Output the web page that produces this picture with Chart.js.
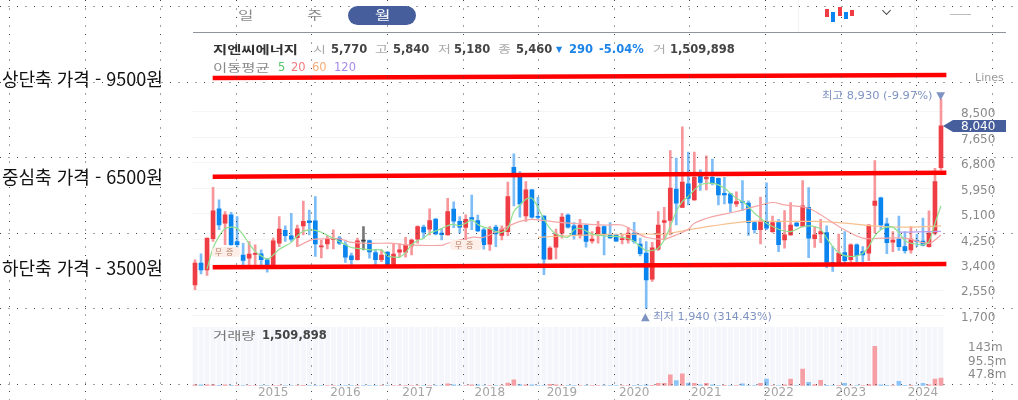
<!DOCTYPE html>
<html lang="ko">
<head>
<meta charset="utf-8">
<title>지엔씨에너지</title>
<script src="https://cdn.jsdelivr.net/npm/chart.js@4"></script>
<style>
  html, body { margin: 0; padding: 0; background: #fff; overflow: hidden; }
  #stage { position: relative; width: 1018px; height: 400px; overflow: hidden; font-family: "DejaVu Sans", "Noto Sans CJK KR", sans-serif; }
  #priceChart { position: absolute; left: 0; top: 0; }
  .t { position: absolute; white-space: nowrap; font-size: 10px; line-height: 12px; color: #aaa; }
  .num { color: #444; font-weight: bold; font-size: 11.5px; }
  .note { font-family: "Noto Sans CJK KR", sans-serif; font-size: 18px; line-height: 22px; color: #111; }
  .kr { font-family: "Noto Sans CJK KR", sans-serif; transform: scaleX(1.4); transform-origin: left center; }
  .tag { position: absolute; background: #fdeee8; border-radius: 4px; color: #b5785f; font-size: 8px; line-height: 10px; text-align: center; font-family: "Noto Sans CJK KR", sans-serif; }
  .box { position: absolute; }
</style>
</head>
<body>
<div id="stage">
  <!-- 410 tall: the thick channel lines make Chart.js keep about 10px spare under the x axis, the stage crops it -->
  <canvas id="priceChart" width="1018" height="410"></canvas>
  <div id="overlay"></div>
</div>
<script>
// Candles, Dec 2013 to Apr 2024
const opens = [2730,3460,3230,4270,5270,4790,5070,4180,3730,3620,3750,3770,3570,3350,4120,4550,4370,4310,4700,4870,
  4870,4000,4100,4250,4290,4070,3700,3570,4190,4210,3810,3570,3830,3350,3820,3820,4030,4260,4660,4590,
  4930,4460,4400,5260,4850,4650,4980,4880,4570,4090,4660,4380,4510,6650,6350,5030,5900,5020,5030,3590,
  3990,4460,5060,4700,4370,4720,4200,4430,4680,4400,4400,4240,4230,4460,4090,3790,2920,3920,4820,4880,
  5930,5320,6100,5570,6350,6270,6320,6290,5790,5770,5430,5510,5460,4810,4570,4850,4510,4810,4230,4400,
  4790,4680,5320,4270,4430,4480,3480,3400,3810,3570,4070,3840,3790,5380,5640,4770,4160,4260,4010,3900,
  4210,4190,4010,4460,6640];
const highs = [3570,3770,4290,5990,5570,5180,5150,5010,4120,4180,4070,3900,3620,4290,5010,4700,5120,4730,5530,5230,
  5680,4230,4350,4570,4350,4180,3790,4290,4680,4230,3920,3900,3840,4100,4100,4320,4260,4700,4730,5270,
  4940,4620,5620,5500,5010,5070,5730,5060,4620,4680,4730,4700,6160,7100,6510,6180,5920,5650,5040,4010,
  4590,5120,5100,4810,4920,4760,4510,4850,4710,4810,4430,4430,4650,4820,4290,4180,4150,5180,5320,7210,
  6960,8000,7160,7160,6570,7040,6930,6300,6320,5790,5840,6210,5540,4850,5660,6140,5030,4920,5210,5480,
  4850,6210,5980,4680,4920,4700,4010,4430,4510,4100,4100,4010,4740,6880,5660,4960,4510,5030,4510,4680,
  4430,4960,5200,6620,8930];
const lows = [2570,3100,3050,4180,4570,4070,4050,3730,3350,3350,3350,3350,3160,3340,4010,4180,4180,4010,4400,4400,
  3680,3630,3930,3930,4070,3480,3350,3560,3900,3620,3400,3510,3340,3340,3660,3660,3730,4120,4290,4400,
  4400,4230,4390,4640,4460,4230,4570,4510,3920,3880,4010,4230,4370,5370,4990,4850,4960,4920,3070,3580,
  3600,4290,4620,4260,4290,3990,4120,4120,3730,4280,4180,4100,4120,4120,3700,1940,2850,3880,4230,4400,
  4730,5310,5400,5550,5880,5900,6070,5400,5430,5150,5340,5210,4380,4460,4100,4570,4480,3840,3960,4380,
  4680,4660,3640,3980,4140,3310,3180,3390,3460,3510,3510,3480,3540,4460,4570,3770,3840,3880,3790,3790,
  4010,4030,3990,4400,6570];
const closes = [3460,3230,4290,5200,4730,5070,4070,4070,3550,3760,3780,3570,3350,4200,4590,4370,4260,4600,4850,4810,
  4100,4030,4260,4270,4120,3660,3570,4200,4190,3830,3570,3730,3350,3760,3900,4060,4230,4680,4490,4880,
  4430,4410,5180,4860,4660,4920,4920,4530,4070,4590,4430,4590,5680,6460,5430,5900,4990,4980,3590,3960,
  4430,4990,4660,4400,4730,4180,4260,4660,4400,4300,4190,4270,4460,4180,3770,2900,3970,4730,4880,5960,
  5460,6160,5620,6320,6150,6320,6120,5730,5730,5460,5510,5480,4810,4570,4850,4620,4810,4070,4400,4730,
  4700,5370,4290,4400,4510,3480,3400,3790,3540,4070,3710,3730,4730,5530,4730,4140,4230,4010,3870,4260,
  4170,4060,4460,6180,8040];
// Volume in millions of shares
const volumes = [3,3,3,3,2,3,2,2,0.5,0.5, 0.5,0.5,0.5,0.5,0.5,0.5,0.5,0.5,2,0.5,
  0.5,0.5,0.5,0.5,0.5,0.5,0.5,0.5,0.5,0.5, 0.5,0.5,0.5,0.5,0.5,0.5,0.5,0.5,0.5,0.5,
  0.5,0.5,7,3,0.5,0.5,3,3,0.5,0.5, 0.5,0.5,10,21,4,3,3,0.5,0.5,5,
  3,0.5,0.5,0.5,0.5,0.5,0.5,0.5,0.5,0.5, 0.5,0.5,0.5,0.5,0.5,3,2,9,9,39,
  18,42,9,9,3,9,3,0.5,2,0.5, 0.5,7,0.5,0.5,9,24,0.5,0.5,3,24,
  0.5,59,12,4,19,2,0.5,2,9,0.5, 0.5,0.5,4,139,3,2,0.5,16,2,2,
  0.5,9,3,24,27];

// Moving averages: month index and value, read where the curve is visible
const ma5Months = [2,3,4,5,6,7,8,9,10,11,12,13,14,15,16,17,18,19,20,21,22,23,24,25,26,27,28,29,30,31,32,33,34,35,36,37,38,39,40,
  41,42,43,44,45,46,47,48,49,50,51,52,53,54,55,56,57,58,59,60,61,62,63,64,65,66,67,68,69,70,71,72,73,74,75,76,77,78,79,80,81,82,
  83,84,85,86,87,88,89,90,91,92,93,94,95,96,97,98,99,100,101,102,103,104,105,106,107,108,109,110,111,112,113,114,115,116,117,118,119,120,121,122,123,124];
const ma5Values = [3260,3960,4350,4610,4660,4620,4400,4100,3850,3700,3590,3730,3920,4030,4150,4370,4520,4570,4550,4490,4380,4290,4180,4070,3980,3950,3930,3900,3900,3900,3700,3660,3660,3810,4070,4210,4290,4460,4530,
  4610,4710,4750,4710,4790,4900,4750,4660,4610,4510,4480,4620,5180,5400,5590,5620,5320,4920,4620,4430,4350,4320,4570,4620,4530,4430,4390,4370,4350,4350,4320,4280,4180,4010,3880,3880,3960,4230,4680,5180,5510,5680,
  5900,6070,6120,6120,6070,5960,5790,5620,5510,5340,5120,4960,4790,4680,4590,4530,4510,4590,4680,4700,4680,4590,4290,4010,3810,3710,3680,3700,3790,4010,4370,4570,4660,4660,4480,4210,4120,4090,4070,4180,4790,5370];
const ma20Months = [17,19,20,24,26,29,33,35,41,42,46,48,51,54,56,58,61,64,68,71,73,75,78,80,82,83,86,90,93,96,98,102,104,107,111,114,118,122,124];
const ma20Values = [4010,4210,4260,4270,4150,4120,4120,4070,4050,4120,4320,4320,4590,4850,4920,4880,4810,4770,4730,4730,4510,4320,4260,4400,4590,4790,5010,5180,5340,5480,5400,5290,5070,4680,4290,4290,4290,4120,4400];
const ma60Months = [57,62,68,72,75,78,82,86,92,97,103,108,114,119,124];
const ma60Values = [4320,4370,4420,4420,4430,4430,4570,4700,4850,4850,4850,4790,4680,4660,4700];
const ma120Months = [117,120,124];
const ma120Values = [4490,4500,4520];

// The hand drawn channel lines: month position and price at each end
const channelMonths = [2.94, 124.9];
const upperLine = [9630, 9730];
const middleLine = [6340, 6470];
const lowerLine = [3320, 3430];

const priceTicks = [1700,2550,3400,4250,5100,5950,6800,7650,8500];
const volumeTicks = [47.8,95.5,143];
const yearLabels = [2015,2016,2017,2018,2019,2020,2021,2022,2023,2024];

// Month labels
const categories = [];
for (let i = 0; i < closes.length; i++) {
  const m = 11 + i;
  categories.push((2013 + Math.floor(m / 12)) + "-" + String(m % 12 + 1).padStart(2, "0"));
}

function candleColor(i) {
  if (closes[i] > opens[i]) return "#ef3d46";
  if (closes[i] < opens[i]) return "#0a84ee";
  return "#444444";
}
function wickColor(i) {
  if (closes[i] > opens[i]) return "#f7969b";
  if (closes[i] < opens[i]) return "#7fbdf7";
  return "#777777";
}
function volumeColor(i) {
  return i === 0 || closes[i] >= closes[i - 1] ? "#f59ea3" : "#8cc4f8";
}

const maSeries = (months, values) => months.map((m, i) => ({ x: categories[m], y: values[i] }));
const maLine = (label, months, values, color) => ({
  type: "line", label, data: maSeries(months, values), yAxisID: "y",
  borderColor: color, borderWidth: 1.2, pointRadius: 0, tension: 0.3, spanGaps: true, order: 2
});
const channel = (label, prices) => ({
  type: "line", label, data: channelMonths.map((m, i) => ({ x: m, y: prices[i] })),
  xAxisID: "xLine", yAxisID: "y", borderColor: "#ff0000", borderWidth: 4.5, pointRadius: 0, clip: false, order: 1
});

// Pale column behind each volume bar, last price tag, and the worksheet dots on top
const panelPlugin = {
  id: "panel",
  beforeDatasetsDraw(chart) {
    const c = chart.ctx, x = chart.scales.x, yv = chart.scales.yVol;
    c.save();
    c.fillStyle = "#f4f6fb";
    categories.forEach((_, i) => {
      c.fillRect(x.getPixelForValue(i) - 2.5, yv.top + 5, 5, yv.bottom - yv.top - 5);
    });
    c.restore();
  },
  afterDraw(chart) {
    const c = chart.ctx, y = chart.scales.y;
    const last = closes[closes.length - 1];
    const py = Math.round(y.getPixelForValue(last));
    c.save();
    c.fillStyle = "#465f9c";
    c.beginPath();
    c.moveTo(943, py);
    c.lineTo(953, py - 6);
    c.lineTo(1006, py - 6);
    c.lineTo(1006, py + 6);
    c.lineTo(953, py + 6);
    c.closePath();
    c.fill();
    c.fillStyle = "#fff";
    c.font = "12px 'DejaVu Sans'";
    c.textBaseline = "middle";
    c.fillText(last.toLocaleString("en-US"), 961, py + 0.5);

    c.strokeStyle = "#444";
    c.lineWidth = 1;
    c.setLineDash([1, 7.5]);
    for (let k = 0; k < 14; k++) {
      const vx = Math.round(9 + 75.6 * k) + 0.5;
      c.beginPath(); c.moveTo(vx, 0); c.lineTo(vx, 400); c.stroke();
    }
    for (let k = 0; k < 6; k++) {
      const hy = Math.round(6 + 75.6 * k) + 0.5;
      c.beginPath(); c.moveTo(0, hy); c.lineTo(1018, hy); c.stroke();
    }
    c.restore();
  }
};

new Chart(document.getElementById("priceChart"), {
  type: "bar",
  data: {
    labels: categories,
    datasets: [
      { label: "거래량", data: volumes, yAxisID: "yVol", backgroundColor: categories.map((_, i) => volumeColor(i)), barThickness: 4, grouped: false, order: 5 },
      { label: "고저", data: highs.map((h, i) => [lows[i], h]), yAxisID: "y", backgroundColor: categories.map((_, i) => wickColor(i)), barThickness: 2, grouped: false, order: 4 },
      { label: "시종", data: opens.map((o, i) => [Math.min(o, closes[i]), Math.max(o, closes[i])]), yAxisID: "y", backgroundColor: categories.map((_, i) => candleColor(i)), barThickness: 4, minBarLength: 1, grouped: false, order: 3 },
      maLine("5", ma5Months, ma5Values, "#8fe08f"),
      maLine("20", ma20Months, ma20Values, "#f6a5a5"),
      maLine("60", ma60Months, ma60Values, "#f7c08f"),
      maLine("120", ma120Months, ma120Values, "#b79cf0"),
      channel("상단축", upperLine),
      channel("중심축", middleLine),
      channel("하단축", lowerLine)
    ]
  },
  options: {
    responsive: false,
    animation: false,
    layout: { autoPadding: false, padding: { left: 192, top: 60, right: 0, bottom: 0 } },
    plugins: { legend: { display: false }, tooltip: { enabled: false } },
    scales: {
      x: {
        type: "category",
        offset: true,
        afterFit: s => { s.height = 14; },
        grid: { display: false, drawTicks: false },
        border: { display: false },
        ticks: {
          autoSkip: false, maxRotation: 0, padding: 0, color: "#a5a5a5", font: { size: 12, family: "DejaVu Sans" },
          callback(v) {
            const [year, month] = categories[v].split("-");
            return month === "01" && yearLabels.includes(+year) ? year : null;
          }
        }
      },
      xLine: { type: "linear", display: false, offset: false, axis: "x", min: -0.5, max: 124.5 },
      y: {
        position: "right", stack: "side", stackWeight: 262, min: 1500, max: 10233,
        afterFit: s => { s.width = 74; },
        afterBuildTicks: s => { s.ticks = priceTicks.map(value => ({ value })); },
        grid: { color: "#f5f5f5", drawTicks: false },
        border: { display: false },
        ticks: { autoSkip: false, padding: 17, labelOffset: 2, color: "#8a8a8a", font: { size: 12, family: "DejaVu Sans" }, callback: v => v.toLocaleString("en-US") }
      },
      yVol: {
        position: "right", stack: "side", stackWeight: 64, min: 0, max: 225.7,
        afterFit: s => { s.width = 74; },
        afterBuildTicks: s => { s.ticks = volumeTicks.map(value => ({ value })); },
        grid: { display: false },
        border: { display: false },
        ticks: { autoSkip: false, padding: 16, labelOffset: 3, color: "#8a8a8a", font: { size: 12, family: "DejaVu Sans" }, callback: v => v + "m" }
      }
    }
  },
  plugins: [panelPlugin]
});

// Page furniture around the chart: tabs, quote line, notes
const overlay = document.getElementById("overlay");
function addText(text, x, y, cls, color, extra) {
  const el = document.createElement("div");
  el.className = "t " + (cls || "");
  el.textContent = text;
  el.style.left = x + "px";
  el.style.top = y + "px";
  if (color) el.style.color = color;
  if (extra) Object.assign(el.style, extra);
  overlay.appendChild(el);
}
function addBox(x, y, w, h, color, extra) {
  const el = document.createElement("div");
  el.className = "box";
  Object.assign(el.style, { left: x + "px", top: y + "px", width: w + "px", height: h + "px", background: color }, extra || {});
  overlay.appendChild(el);
}

addBox(348, 6, 68, 19, "#465f9c", { borderRadius: "10px" });
addText("일", 238, 9, "kr", "#8a8a8a", { fontSize: "12px" });
addText("주", 307, 9, "kr", "#8a8a8a", { fontSize: "12px" });
addText("월", 375, 9, "kr", "#ffffff", { fontSize: "12px" });
addBox(193, 32, 813, 1, "#8f949c");
addBox(798, 0, 1, 32, "#f3f3f3");
addBox(914, 0, 1, 32, "#f3f3f3");
addBox(825, 9, 4, 8, "#ef3d46");
addBox(831, 12, 4, 10, "#0a84ee");
addBox(838, 7, 4, 9, "#ef3d46");
addBox(844, 12, 4, 7, "#0a84ee");
addBox(850, 10, 4, 6, "#ef3d46");
addBox(883, 7, 6, 6, "transparent", { borderRight: "1px solid #444", borderBottom: "1px solid #444", transform: "rotate(45deg) scale(0.9)" });
addBox(950, 14, 21, 1, "#bbbbbb");

addText("지엔씨에너지", 213, 43, "kr", "#333", { fontWeight: "bold", fontSize: "11px" });
addText("시", 313, 43, "kr");
addText("5,770", 331, 43, "num");
addText("고", 375, 43, "kr");
addText("5,840", 393, 43, "num");
addText("저", 438, 43, "kr");
addText("5,180", 454, 43, "num");
addText("종", 498, 43, "kr");
addText("5,460", 516, 43, "num");
addText("▼", 556, 44, "", "#1c84e8", { fontSize: "8px" });
addText("290", 569, 43, "num", "#1c84e8");
addText("-5.04%", 599, 43, "num", "#1c84e8");
addText("거", 653, 43, "kr");
addText("1,509,898", 670, 43, "num");

addText("이동평균", 213, 61, "kr", "#8a8a8a", { fontSize: "11px" });
addText("5", 278, 61, "", "#55c46a", { fontSize: "11.5px" });
addText("20", 291, 61, "", "#f47a80", { fontSize: "11.5px" });
addText("60", 312, 61, "", "#f5ae7a", { fontSize: "11.5px" });
addText("120", 334, 61, "", "#a98bec", { fontSize: "11.5px" });
addText("Lines", 975, 72, "", "#999", { fontSize: "11px" });

addText("최고 8,930 (-9.97%) ▼", 822, 89, "", "#7f93c2", { fontSize: "10.5px", transform: "scaleX(1.09)", transformOrigin: "left center" });
addText("▲ 최저 1,940 (314.43%)", 641, 310, "", "#7f93c2", { fontSize: "10.5px", transform: "scaleX(1.07)", transformOrigin: "left center" });
addText("거래량", 213, 329, "kr", "#777", { fontSize: "11px" });
addText("1,509,898", 262, 329, "num");

addText("상단축 가격 - 9500원", 2, 67, "note");
addText("중심축 가격 - 6500원", 2, 165, "note");
addText("하단축 가격 - 3500원", 2, 256, "note");

[[212, 247, 28], [450, 240, 32]].forEach(([x, y, w]) => {
  const el = document.createElement("div");
  el.className = "tag";
  el.textContent = "무증";
  Object.assign(el.style, { left: x + "px", top: y + "px", width: w + "px", height: "10px", letterSpacing: "4px" });
  overlay.appendChild(el);
});
</script>
</body>
</html>
